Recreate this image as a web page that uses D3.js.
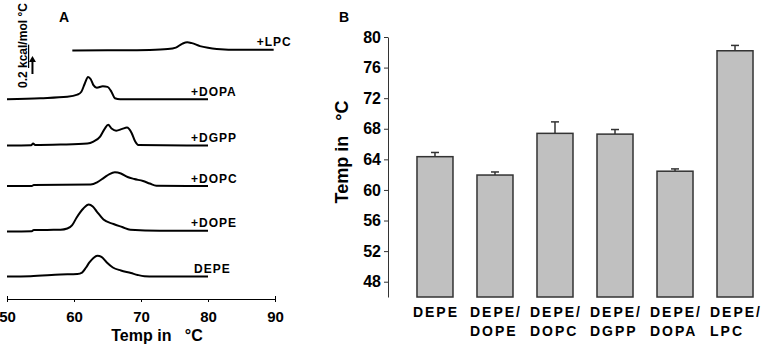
<!DOCTYPE html>
<html>
<head>
<meta charset="utf-8">
<script src="https://cdn.jsdelivr.net/npm/d3@7"></script>
<style>
body { margin: 0; background: #fff; }
text { font-family: "Liberation Sans", Arial, sans-serif; font-weight: bold; fill: #000; }
</style>
</head>
<body>
<div id="chart-area"></div>
<script>
/*
*    DSC traces (A) and transition temperatures (B)
*/

// panel A: thermograms, excess Cp in kcal/mol/°C above each trace's baseline
var tempTicks = [50, 60, 70, 80, 90];
var traceNames = ["DEPE", "+DOPE", "+DOPC", "+DGPP", "+DOPA", "+LPC"];
var traceOffsets = [0.25, 0.75, 1.255, 1.705, 2.22, 2.76];

var depe = [[50,0],[53.5,0.003],[58,0.022],[60.5,0.028],[61.2,0.044],[61.8,0.1],[62.3,0.156],[62.9,0.206],[63.5,0.23],
	[64.1,0.217],[64.9,0.156],[65.8,0.1],[67,0.067],[68.5,0.039],[69.5,0.017],[70.5,0.003],[72,0],[80,0]];
var dope = [[50,0],[53.7,0.003],[54,0.017],[58,0.019],[59,0.033],[59.7,0.067],[60.4,0.156],[61.4,0.256],[62.2,0.3],
	[62.8,0.278],[63.4,0.222],[64.4,0.133],[65.9,0.083],[67.2,0.05],[68.4,0.02],[72.8,0.008],[80,0.008]];
var dopc = [[50,0],[53.7,0],[54,0.011],[62.5,0.017],[63.5,0.044],[64.5,0.094],[65.3,0.133],[66.1,0.152],[67,0.139],
	[68,0.1],[69,0.078],[70.3,0.056],[71.3,0.028],[72.3,0.003],[80,0]];
var dgpp = [[50,0],[53.6,0.003],[53.9,0.022],[54.2,0.006],[58,0.011],[62,0.022],[62.9,0.044],[63.9,0.1],[64.6,0.189],
	[65.1,0.23],[65.6,0.19],[66.3,0.165],[67.2,0.185],[67.9,0.2],[68.6,0.14],[69.1,0.05],[69.6,0.006],[80,0]];
var dopa = [[50,0],[55,0.011],[59,0.026],[60.5,0.05],[61.1,0.083],[61.6,0.172],[62.1,0.248],[62.5,0.222],[62.9,0.156],
	[63.4,0.128],[64.3,0.144],[65,0.137],[65.6,0.081],[66.1,0.011],[66.9,0],[80,0]];
var lpc = [[59.75,0],[65,0.003],[71.3,0.008],[74,0.017],[75.2,0.033],[76.2,0.078],[76.9,0.093],[77.6,0.083],[78.8,0.05],
	[80,0.031],[81.3,0.019],[84.8,0.009],[89.8,0.009]];
var traces = [depe, dope, dopc, dgpp, dopa, lpc];
var scaleBar = 0.2; // kcal/mol °C

// panel B: Tm bars
var samples = ["DEPE", "DEPE/DOPE", "DEPE/DOPC", "DEPE/DGPP", "DEPE/DOPA", "DEPE/LPC"];
var meanTm = [64.35, 61.95, 67.4, 67.3, 62.45, 78.2];
var errTm = [0.55, 0.4, 1.5, 0.6, 0.3, 0.7];
var tmTicks = [48, 52, 56, 60, 64, 68, 72, 76, 80];

var svg = d3.select("#chart-area").append("svg").attr("width", 761).attr("height", 347);

var panelA = svg.append("g");

// ---------- A ----------
var xA = d3.scaleLinear().domain([50, 90]).range([7, 275]);
var yA = d3.scaleLinear().domain([0, 299 / 90]).range([299, 0]);

var axisA = d3.axisBottom(xA).tickValues(tempTicks).tickSizeInner(3).tickSizeOuter(-3).tickPadding(9);
var axisAGroup = panelA.append("g").attr("transform", "translate(0, 299)").call(axisA);
axisAGroup.attr("font-size", null).attr("font-family", null);
axisAGroup.selectAll("text").style("font-size", "15px");
axisAGroup.selectAll("path, line").attr("stroke", "#000");

panelA.append("text").attr("x", 157).attr("y", 341).style("font-size", "16px").attr("text-anchor", "middle")
	.text("Temp in\u00a0\u00a0 °C");

var line = d3.line().curve(d3.curveMonotoneX);

traces.forEach((tr, i) => {
	var off = traceOffsets[i];
	var name = traceNames[i];
	panelA.append("path")
		.attr("d", line(tr.map((p) => [xA(p[0]), yA(off + p[1])])))
		.attr("fill", "none").attr("stroke", "#000").attr("stroke-width", 2);
	var last = tr[tr.length - 1];
	panelA.append("text")
		.attr("x", xA(last[0]) - (name[0] == "+" ? 17 : 14))
		.attr("y", yA(off + last[1]) - 3.5)
		.style("font-size", "12px").attr("letter-spacing", "1px")
		.text(name);
});

// scale bar arrow
var arrowT = 53.8, arrowBase = 2.5;
panelA.append("line").attr("x1", xA(arrowT)).attr("x2", xA(arrowT))
	.attr("y1", yA(arrowBase)).attr("y2", yA(arrowBase + scaleBar) + 5)
	.attr("stroke", "#000").attr("stroke-width", 2);
panelA.append("path")
	.attr("d", "M" + (xA(arrowT) - 3.5) + "," + (yA(arrowBase + scaleBar) + 6) + "L" + xA(arrowT) + "," + yA(arrowBase + scaleBar)
		+ "L" + (xA(arrowT) + 3.5) + "," + (yA(arrowBase + scaleBar) + 6) + "Z")
	.attr("fill", "#000");

var sbText = panelA.append("text").attr("transform", "translate(27, 88) rotate(-90)").style("font-size", "12px");
sbText.append("tspan").text(scaleBar + " ");
sbText.append("tspan").attr("text-decoration", "underline").text("kcal");
sbText.append("tspan").text("/mol °C");

panelA.append("text").attr("x", 59).attr("y", 22).style("font-size", "14px").text("A");

// ---------- B ----------
var xB = d3.scaleBand().domain(samples).range([409, 761]).paddingInner(0.4).paddingOuter(0.133);
var yB = d3.scaleLinear().domain([46, 80]).range([297, 37]);

var axisB = d3.axisLeft(yB).tickValues(tmTicks).tickSizeInner(4).tickSizeOuter(0).tickPadding(3);
var axisBGroup = svg.append("g").attr("transform", "translate(388, 0)").call(axisB);
axisBGroup.attr("font-size", null).attr("font-family", null);
axisBGroup.selectAll("text").style("font-size", "16px");
axisBGroup.selectAll("path, line").attr("stroke", "#333");

svg.append("text").attr("transform", "translate(348, 152) rotate(-90)").style("font-size", "18px")
	.attr("text-anchor", "middle").text("Temp in\u00a0\u00a0 °C");

svg.append("text").attr("x", 339).attr("y", 22).style("font-size", "14px").text("B");

var bars = svg.selectAll("g.bar").data(samples).enter().append("g").attr("class", "bar");

bars.append("line")
	.attr("x1", (d) => xB(d) + xB.bandwidth() / 2).attr("x2", (d) => xB(d) + xB.bandwidth() / 2)
	.attr("y1", (d, i) => yB(meanTm[i])).attr("y2", (d, i) => yB(meanTm[i] + errTm[i]))
	.attr("stroke", "#333").attr("stroke-width", 1.5);
bars.append("line")
	.attr("x1", (d) => xB(d) + xB.bandwidth() / 2 - 4).attr("x2", (d) => xB(d) + xB.bandwidth() / 2 + 4)
	.attr("y1", (d, i) => yB(meanTm[i] + errTm[i])).attr("y2", (d, i) => yB(meanTm[i] + errTm[i]))
	.attr("stroke", "#333").attr("stroke-width", 1.5);

bars.append("rect")
	.attr("x", (d) => xB(d)).attr("width", xB.bandwidth())
	.attr("y", (d, i) => yB(meanTm[i])).attr("height", (d, i) => yB(46) - yB(meanTm[i]))
	.attr("fill", "#c0c0c0").attr("stroke", "#333").attr("stroke-width", 1.5);

// category labels, 2 lines, second line left aligned with first
samples.forEach((s) => {
	var parts = s.indexOf("/") > 0 ? [s.split("/")[0] + "/", s.split("/")[1]] : [s];
	var cx = xB(s) + xB.bandwidth() / 2;
	var t = svg.append("text").style("font-size", "14px").attr("letter-spacing", "2px").attr("y", 317);
	var first = t.append("tspan").text(parts[0]);
	var w = first.node().getComputedTextLength();
	first.attr("x", cx - w / 2 + 1);
	if (parts.length > 1) {
		t.append("tspan").attr("x", cx - w / 2 + 1).attr("dy", 19).text(parts[1]);
	}
});
</script>
</body>
</html>
